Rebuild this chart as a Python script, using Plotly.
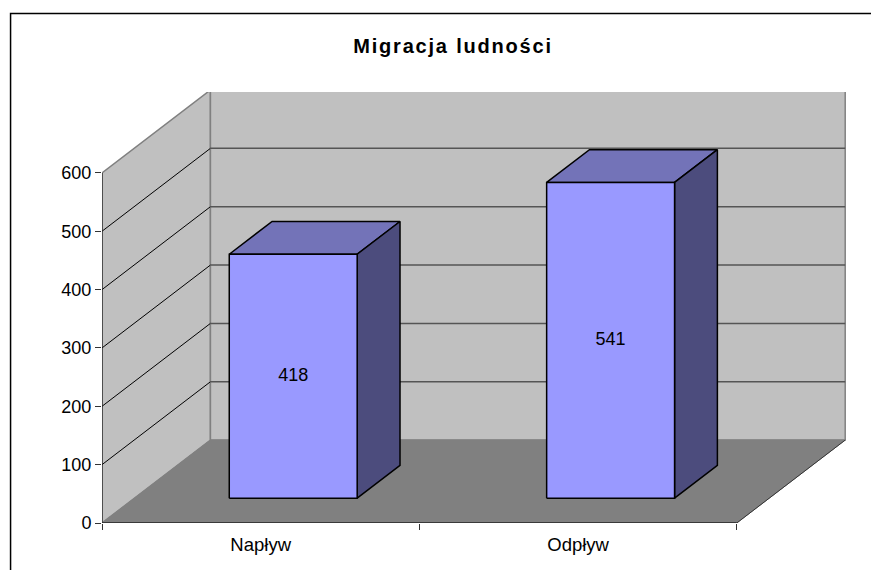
import plotly.graph_objects as go

categories = ["Napływ", "Odpływ"]
values = [418, 541]
y_ticks = [0, 100, 200, 300, 400, 500, 600]
title_text = "Migracja ludności"

# Geometry of the oblique projection. The page has an 8 px body margin,
# so the figure's own coordinates are the picture's minus 8.
PAGE = 8
W, H = 879, 570
LEFT, RIGHT = 101.5 - PAGE, 846.0 - PAGE
BOTTOM, TOP = 523.0 - PAGE, 91.5 - PAGE
PX_PER_CAT = (736.7 - 101.5) / 2
PX_PER_VAL = (523.0 - 172.5) / 600
DX = (210.0 - 101.5) / PX_PER_CAT   # full depth, x units
DY = (523.0 - 440.0) / PX_PER_VAL   # full depth, y units
YMAX = 600
BAR_W = 128 / PX_PER_CAT
D0, D1 = 0.3, 0.695                 # bar depth extents


def proj(x, y, d):
    return x + DX * d, y + DY * d


def poly(pts, fill, line, width=1):
    xs = [p[0] for p in pts] + [pts[0][0]]
    ys = [p[1] for p in pts] + [pts[0][1]]
    return go.Scatter(x=xs, y=ys, mode="lines", fill="toself", fillcolor=fill,
                      line=dict(color=line, width=width), hoverinfo="skip", showlegend=False)


def seg(pts, color, width=1):
    return go.Scatter(x=[p[0] for p in pts], y=[p[1] for p in pts], mode="lines",
                      line=dict(color=color, width=width), hoverinfo="skip", showlegend=False)


fig = go.Figure()
n = len(categories)

# walls and floor
fig.add_trace(poly([proj(0, 0, 0), proj(0, 0, 1), proj(0, YMAX, 1), proj(0, YMAX, 0)], "#C0C0C0", "#808080", 1.5))
fig.add_trace(poly([proj(0, 0, 1), proj(n, 0, 1), proj(n, YMAX, 1), proj(0, YMAX, 1)], "#C0C0C0", "#808080", 1.5))
fig.add_trace(poly([proj(0, 0, 0), proj(n, 0, 0), proj(n, 0, 1), proj(0, 0, 1)], "#808080", "#808080", 1))

# gridlines
for v in y_ticks[1:-1]:
    fig.add_trace(seg([proj(0, v, 0), proj(0, v, 1)], "#000000", 1))
    fig.add_trace(seg([proj(0, v, 1), proj(n, v, 1)], "#555555", 1.5))
fig.add_trace(seg([proj(n, 0, 0), proj(n, 0, 1)], "#333333", 1))

# axis lines
fig.add_trace(seg([proj(0, 0, 0), proj(0, YMAX, 0)], "#222222", 1.2))
fig.add_trace(seg([proj(0, 0, 0), proj(n, 0, 0)], "#222222", 1.5))

# bars
for i, val in enumerate(values):
    x0 = i + 0.5 - BAR_W / 2
    x1 = x0 + BAR_W
    fig.add_trace(poly([proj(x0, val, D0), proj(x1, val, D0), proj(x1, val, D1), proj(x0, val, D1)], "#7373B8", "#000000", 1.5))
    fig.add_trace(poly([proj(x1, 0, D0), proj(x1, 0, D1), proj(x1, val, D1), proj(x1, val, D0)], "#4C4C7D", "#000000", 1.5))
    fig.add_trace(poly([proj(x0, 0, D0), proj(x1, 0, D0), proj(x1, val, D0), proj(x0, val, D0)], "#9999FF", "#000000", 1.5))
    cx, cy = proj(i + 0.5, val / 2, D0)
    fig.add_trace(go.Scatter(x=[cx], y=[cy], mode="text", text=[str(val)],
                             textfont=dict(family="Liberation Sans", size=18, color="#000000"),
                             hoverinfo="skip", showlegend=False, cliponaxis=False))

xrange_ = [0, (RIGHT - LEFT) / PX_PER_CAT]
yrange_ = [0, (BOTTOM - TOP) / PX_PER_VAL]

fig.update_layout(
    width=W, height=H, autosize=False,
    margin=dict(l=LEFT, r=W - RIGHT, t=TOP, b=H - BOTTOM, pad=0),
    paper_bgcolor="#FFFFFF", plot_bgcolor="rgba(0,0,0,0)",
    showlegend=False,
    font=dict(family="Liberation Sans", color="#000000"),
    title=dict(text="<b>%s</b>" % title_text, x=(453 - PAGE) / W, xanchor="center",
               y=1 - (46 - PAGE) / H, yanchor="middle",
               font=dict(family="Liberation Sans", size=20, color="#000000")),
    xaxis=dict(range=xrange_, tickmode="array", tickvals=[i + 0.5 for i in range(n)],
               ticktext=categories, ticks="", showgrid=False, zeroline=False, showline=False,
               tickfont=dict(size=18.5), ticklabelstandoff=8,
               minor=dict(tickmode="array", tickvals=list(range(n + 1)), ticks="outside",
                          ticklen=6, tickwidth=1, tickcolor="#333333", showgrid=False)),
    yaxis=dict(range=yrange_, tickmode="array", tickvals=y_ticks, ticks="outside", ticklen=6,
               tickwidth=1, tickcolor="#333333", showgrid=False, zeroline=False, showline=False,
               tickfont=dict(size=18)),
    shapes=[dict(type="rect", xref="paper", yref="paper",
                 x0=(10 - PAGE - LEFT) / (RIGHT - LEFT), x1=(895 - PAGE - LEFT) / (RIGHT - LEFT),
                 y0=(BOTTOM - (590 - PAGE)) / (BOTTOM - TOP), y1=(BOTTOM - (13 - PAGE)) / (BOTTOM - TOP),
                 line=dict(color="#000000", width=1.5), fillcolor="rgba(0,0,0,0)", layer="below")],
)
title_css = ("var s=document.createElement('style');"
             "s.textContent='.gtitle{letter-spacing:1.8px}';"
             "document.head.appendChild(s);")
fig.write_html("out.html", post_script=title_css)
